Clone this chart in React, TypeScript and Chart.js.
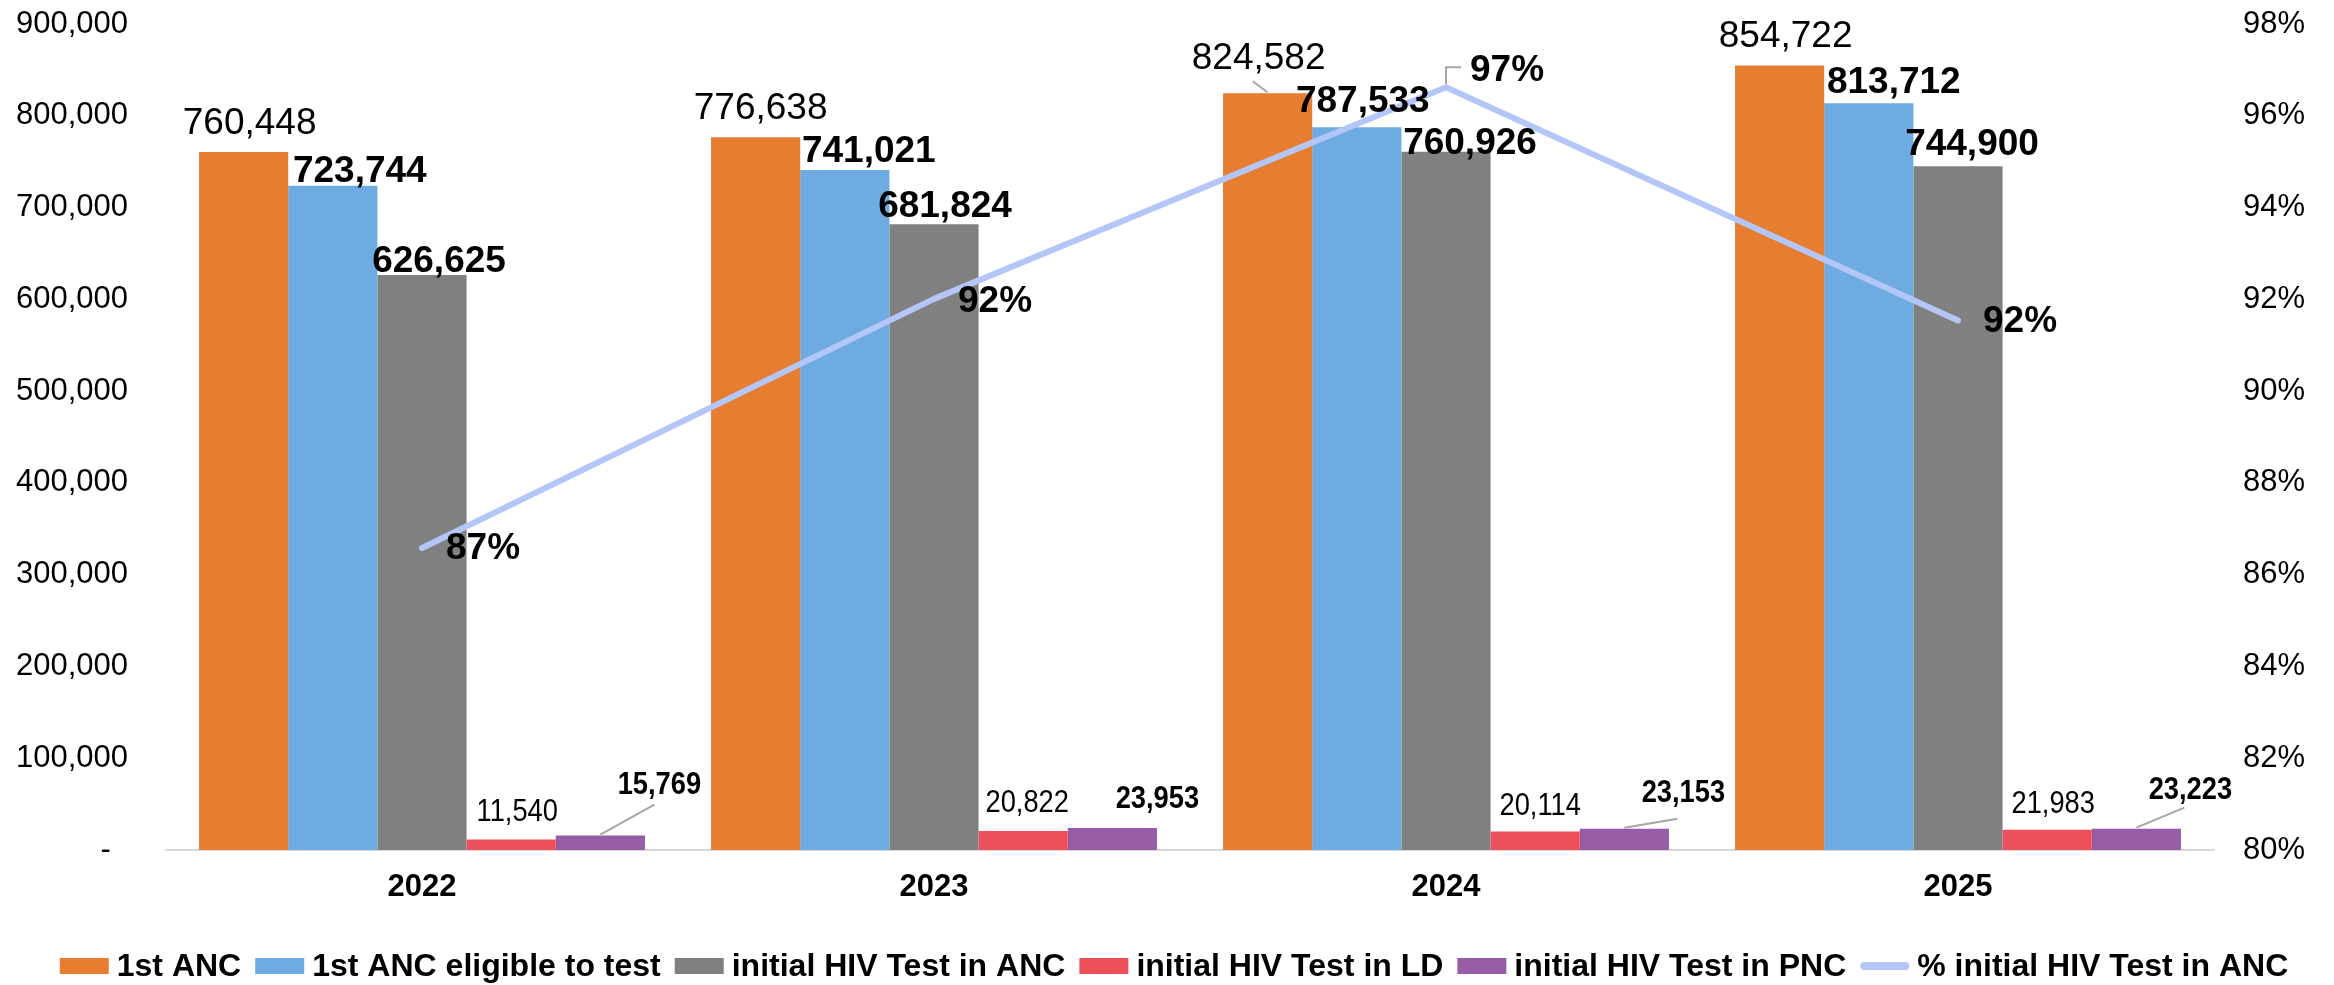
import React, { useEffect, useRef } from "react";
import { Chart, registerables } from "chart.js";

Chart.register(...registerables);

// ---------- data ----------
const YEARS = ["2022", "2023", "2024", "2025"];
const FIRST_ANC = [760448, 776638, 824582, 854722];
const FIRST_ANC_ELIGIBLE = [723744, 741021, 787533, 813712];
const HIV_TEST_ANC = [626625, 681824, 760926, 744900];
const HIV_TEST_LD = [11540, 20822, 20114, 21983];
const HIV_TEST_PNC = [15769, 23953, 23153, 23223];
const PCT_HIV_TEST_ANC = [86.58, 92.01, 96.62, 91.54];
const PCT_LABELS = ["87%", "92%", "97%", "92%"];

const SERIES_NAMES = [
  "1st ANC",
  "1st ANC eligible to test",
  "initial HIV Test in ANC",
  "initial HIV Test in LD",
  "initial HIV Test in PNC",
  "% initial HIV Test in ANC",
];

const LEFT_MIN = 0;
const LEFT_MAX = 900000;
const LEFT_STEP = 100000;
const RIGHT_MIN = 80;
const RIGHT_MAX = 98;
const RIGHT_STEP = 2;

// ---------- styles ----------
const FONT = '"Liberation Sans", Arial, Helvetica, sans-serif';
const COLORS = ["#E77D31", "#6DABE0", "#808080", "#EF4F5B", "#975CA6"];
const LINE_COLOR = "#B3C6F7";
const LEADER_COLOR = "#A6A6A6";
const AXIS_COLOR = "#D9D9D9";

// label placement per bar series: dx (label centre vs bar centre), gap (bar top - baseline)
const BAR_LABEL_STYLES = [
  { bold: false, size: 37, sx: 1, dx: [6, 5, -9, 6], gap: [18, 18, 24, 19], leader: [null, null, [-6, 12], null] },
  { bold: true, size: 37, sx: 1, dx: [27, 24, 6, 25], gap: [4, 8, 15, 10], leader: [null, null, null, null] },
  { bold: true, size: 37, sx: 1, dx: [17, 11, 24, 14], gap: [3, 7, -2, 11], leader: [null, null, null, null] },
  { bold: false, size: 31, sx: 0.88, dx: [6, 4, 5, 6], gap: [18, 19, 17, 17], leader: [null, null, null, null] },
  { bold: true, size: 31, sx: 0.88, dx: [59, 45, 59, 54], gap: [42, 20, 27, 30], leader: [[-5, 11], null, [-6, 17], [-6, 9]] },
];
const PCT_LABEL_STYLE = { size: 37, dx: [24, 24, 24, 25], dy: [1, 3, -17, 1], elbow: [false, false, true, false] };

const fmt = (v: number) => v.toLocaleString("en-US");

const labelPlugin = {
  id: "customLabels",
  afterDatasetsDraw(chart: any) {
    const ctx = chart.ctx as CanvasRenderingContext2D;
    ctx.save();
    const values = [FIRST_ANC, FIRST_ANC_ELIGIBLE, HIV_TEST_ANC, HIV_TEST_LD, HIV_TEST_PNC];
    values.forEach((vals, di) => {
      const meta = chart.getDatasetMeta(di);
      const st = BAR_LABEL_STYLES[di];
      meta.data.forEach((bar: any, i: number) => {
        const x = bar.x + st.dx[i];
        const y = bar.y - st.gap[i];
        const ld = st.leader[i];
        if (ld) {
          ctx.strokeStyle = LEADER_COLOR;
          ctx.lineWidth = 2;
          ctx.beginPath();
          ctx.moveTo(bar.x, bar.y - 1);
          ctx.lineTo(x + ld[0], y + ld[1]);
          ctx.stroke();
        }
        ctx.save();
        ctx.font = `${st.bold ? "bold " : ""}${st.size}px ${FONT}`;
        ctx.fillStyle = "#000";
        ctx.textAlign = "center";
        ctx.textBaseline = "alphabetic";
        ctx.translate(x, y);
        ctx.scale(st.sx, 1);
        ctx.fillText(fmt(vals[i]), 0, 0);
        ctx.restore();
      });
    });
    const lmeta = chart.getDatasetMeta(5);
    lmeta.data.forEach((pt: any, i: number) => {
      const x = pt.x + PCT_LABEL_STYLE.dx[i];
      const y = pt.y + PCT_LABEL_STYLE.dy[i];
      if (PCT_LABEL_STYLE.elbow[i]) {
        ctx.strokeStyle = LEADER_COLOR;
        ctx.lineWidth = 2;
        ctx.beginPath();
        ctx.moveTo(pt.x, pt.y - 3);
        ctx.lineTo(pt.x, y - 3);
        ctx.lineTo(x - 9, y - 3);
        ctx.stroke();
      }
      ctx.font = `bold ${PCT_LABEL_STYLE.size}px ${FONT}`;
      ctx.fillStyle = "#000";
      ctx.textAlign = "left";
      ctx.textBaseline = "middle";
      ctx.fillText(PCT_LABELS[i], x, y);
    });
    ctx.restore();
  },
};

const legendPlugin = {
  id: "customLegend",
  afterDraw(chart: any) {
    const ctx = chart.ctx as CanvasRenderingContext2D;
    ctx.save();
    ctx.font = `bold 32px ${FONT}`;
    const boxW = 49;
    const boxH = 16;
    const gapBox = 8;
    const gapItem = 14;
    const widths = SERIES_NAMES.map((n) => ctx.measureText(n).width);
    const total = widths.reduce((a, w) => a + boxW + gapBox + w, 0) + gapItem * (SERIES_NAMES.length - 1);
    let x = 1174 - total / 2;
    const cy = 966;
    SERIES_NAMES.forEach((name, i) => {
      if (i < 5) {
        ctx.fillStyle = COLORS[i];
        ctx.fillRect(x, cy - boxH / 2, boxW, boxH);
      } else {
        ctx.strokeStyle = LINE_COLOR;
        ctx.lineWidth = 8;
        ctx.lineCap = "round";
        ctx.beginPath();
        ctx.moveTo(x + 4, cy);
        ctx.lineTo(x + boxW - 4, cy);
        ctx.stroke();
      }
      x += boxW + gapBox;
      ctx.fillStyle = "#000";
      ctx.textAlign = "left";
      ctx.textBaseline = "middle";
      ctx.fillText(name, x, cy + 1);
      x += widths[i] + gapItem;
    });
    ctx.restore();
  },
};

export default function App() {
  const ref = useRef<HTMLCanvasElement | null>(null);

  useEffect(() => {
    document.body.style.margin = "0";
    if (!ref.current) return;
    const barSets = [FIRST_ANC, FIRST_ANC_ELIGIBLE, HIV_TEST_ANC, HIV_TEST_LD, HIV_TEST_PNC].map((d, i) => ({
      type: "bar" as const,
      label: SERIES_NAMES[i],
      data: d,
      backgroundColor: COLORS[i],
      borderWidth: 0,
      yAxisID: "y",
      order: 1,
      categoryPercentage: 0.871,
      barPercentage: 1.0,
    }));
    const chart = new Chart(ref.current, {
      type: "bar",
      data: {
        labels: YEARS,
        datasets: [
          ...barSets,
          {
            type: "line" as const,
            label: SERIES_NAMES[5],
            data: PCT_HIV_TEST_ANC,
            borderColor: LINE_COLOR,
            backgroundColor: LINE_COLOR,
            borderWidth: 6,
            borderCapStyle: "round",
            borderJoinStyle: "round",
            pointRadius: 0,
            tension: 0,
            yAxisID: "y1",
            order: 0,
          } as any,
        ],
      },
      options: {
        animation: false,
        responsive: false,
        devicePixelRatio: 1,
        layout: { padding: { top: 24, bottom: 79, left: 0, right: 0 }, autoPadding: false },
        plugins: { legend: { display: false }, tooltip: { enabled: false } },
        scales: {
          x: {
            grid: { display: false, drawTicks: false },
            border: { display: true, color: AXIS_COLOR, width: 2 },
            ticks: { color: "#000", padding: 19, font: { family: FONT, size: 31, weight: "bold" } },
            afterFit: (s: any) => {
              s.height = 56;
              s.paddingLeft = 0;
              s.paddingRight = 0;
            },
          },
          y: {
            position: "left",
            min: LEFT_MIN,
            max: LEFT_MAX,
            grid: { display: false, drawTicks: false },
            border: { display: false },
            ticks: {
              stepSize: LEFT_STEP,
              padding: 38,
              color: "#000",
              font: { family: FONT, size: 31 },
              callback: (v: any) => (Number(v) === 0 ? "-  " : fmt(Number(v))),
            },
            afterFit: (s: any) => {
              s.width = 166;
              s.paddingTop = 0;
              s.paddingBottom = 0;
            },
          },
          y1: {
            position: "right",
            min: RIGHT_MIN,
            max: RIGHT_MAX,
            grid: { display: false, drawTicks: false },
            border: { display: false },
            ticks: {
              stepSize: RIGHT_STEP,
              padding: 29,
              color: "#000",
              font: { family: FONT, size: 31 },
              callback: (v: any) => `${v}%`,
            },
            afterFit: (s: any) => {
              s.width = 120;
              s.paddingTop = 0;
              s.paddingBottom = 0;
            },
          },
        },
      } as any,
      plugins: [labelPlugin, legendPlugin],
    });
    return () => chart.destroy();
  }, []);

  return (
    <div style={{ width: 2334, height: 985 }}>
      <canvas ref={ref} width={2334} height={985} />
    </div>
  );
}
